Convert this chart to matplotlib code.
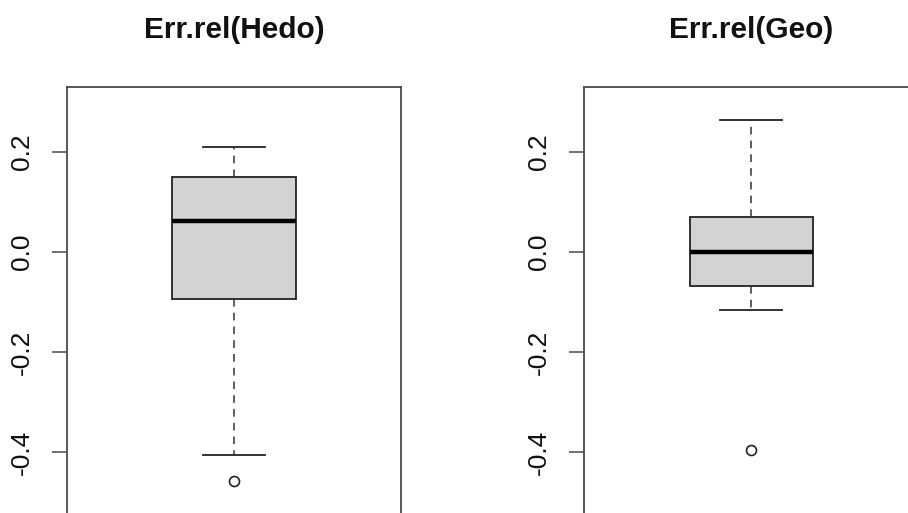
import matplotlib
matplotlib.use("Agg")
import matplotlib.pyplot as plt

titles = ["Err.rel(Hedo)", "Err.rel(Geo)"]
q1 = [-0.094, -0.069]
med = [0.061, 0.000]
q3 = [0.149, 0.069]
whislo = [-0.406, -0.115]
whishi = [0.209, 0.263]
fliers = [[-0.457], [-0.395]]
yticks = [-0.4, -0.2, 0.0, 0.2]
yticklabels = ["-0.4", "-0.2", "0.0", "0.2"]

plt.rcParams['font.family'] = ['Liberation Sans', 'DejaVu Sans']

W, H = 908, 513
fig = plt.figure(figsize=(W / 100, H / 100), dpi=100)

lefts = [67, 584.3]
width_px = 334
top_px = 86.5
spine_col = '#4a4a4a'

for i in range(2):
    ax = fig.add_axes([lefts[i] / W, 0, width_px / W, 1 - top_px / H])
    stats = [dict(med=med[i], q1=q1[i], q3=q3[i], whislo=whislo[i],
                  whishi=whishi[i], fliers=fliers[i])]
    ax.bxp(stats, positions=[1], widths=0.37, patch_artist=True,
           boxprops=dict(facecolor='#d3d3d3', edgecolor='#222222', linewidth=1.3),
           medianprops=dict(color='black', linewidth=3.2, solid_capstyle='butt'),
           whiskerprops=dict(color='#333333', linewidth=1.1, linestyle=(0, (5, 4))),
           capprops=dict(color='#222222', linewidth=1.3),
           capwidths=0.186,
           flierprops=dict(marker='o', markersize=7.2, markerfacecolor='none',
                           markeredgecolor='#222222', markeredgewidth=1.2))
    ax.set_xlim(0.5, 1.5)
    ax.set_ylim(-0.521, 0.330)
    ax.set_xticks([])
    ax.set_yticks(yticks)
    ax.set_yticklabels(yticklabels, rotation=90, va='center')
    ax.tick_params(axis='y', length=10.8, width=1.1, pad=13.2, labelsize=19,
                   color=spine_col, labelcolor='#111111')
    ax.spines['bottom'].set_visible(False)
    for s in ['left', 'right', 'top']:
        ax.spines[s].set_color(spine_col)
        ax.spines[s].set_linewidth(1.3)
    cx = (lefts[i] + width_px / 2) / W
    fig.text(cx, 1 - 30 / H, titles[i], ha='center', va='center',
             fontsize=21.5, fontweight='bold', color='#111111')

fig.savefig("out.png", dpi=100)
